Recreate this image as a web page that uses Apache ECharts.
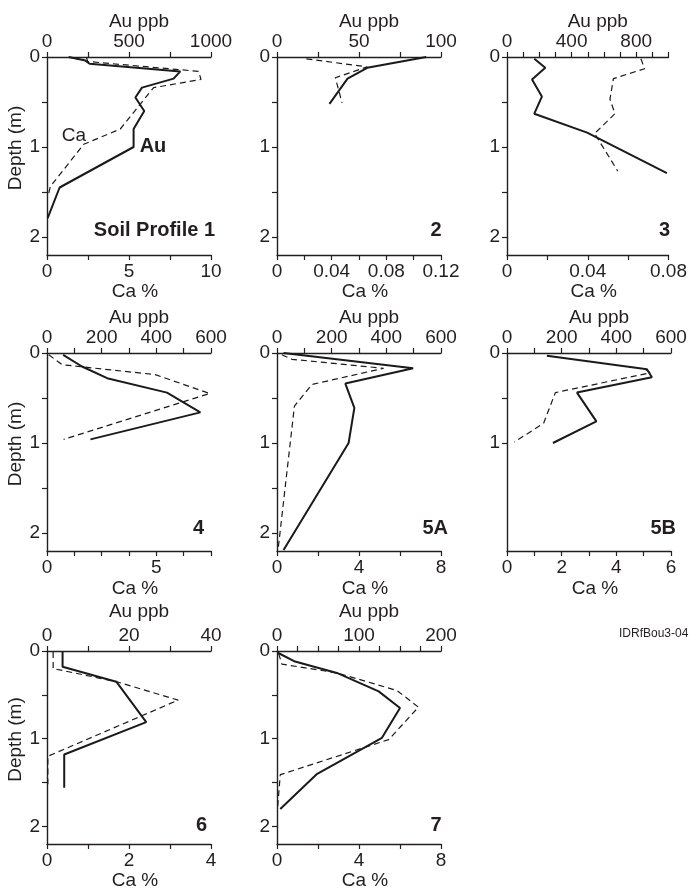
<!DOCTYPE html>
<html><head><meta charset="utf-8">
<script src="https://cdn.jsdelivr.net/npm/echarts@6/dist/echarts.min.js"></script>
<style>html,body{margin:0;padding:0;background:#fff}#c{width:690px;height:891px}</style>
</head><body><div id="c"></div>
<script>
// ---------- DATA ----------
const profileNames = ['Soil Profile 1', '2', '3', '4', '5A', '5B', '6', '7'];

// Profile 1
const p1AuDepth = [0, 0.04, 0.075, 0.16, 0.24, 0.34, 0.45, 0.60, 0.80, 1.00, 1.45, 1.79];
const p1Au      = [132, 234, 260, 813, 772, 579, 539, 593, 528, 528, 77, 4];
const p1CaDepth = [0, 0.05, 0.16, 0.25, 0.34, 0.80, 0.97, 1.44, 1.52];
const p1Ca      = [2.4, 2.48, 9.25, 9.39, 6.5, 4.47, 2.24, 0.2, 0.1];
// Profile 2
const p2AuDepth = [0, 0.12, 0.24, 0.52];
const p2Au      = [91, 55, 43, 32];
const p2CaDepth = [0.02, 0.11, 0.23, 0.51];
const p2Ca      = [0.0215, 0.066, 0.0427, 0.0476];
// Profile 3
const p3AuDepth = [0.02, 0.12, 0.25, 0.44, 0.63, 0.84, 1.29];
const p3Au      = [169, 237, 155, 216, 169, 496, 990];
const p3CaDepth = [0.02, 0.13, 0.24, 0.47, 0.63, 0.85, 1.27];
const p3Ca      = [0.0663, 0.0682, 0.0527, 0.051, 0.0535, 0.0434, 0.0549];
// Profile 4
const p4AuDepth = [0.02, 0.15, 0.28, 0.44, 0.66, 0.96];
const p4Au      = [59, 128, 220, 439, 561, 159];
const p4CaDepth = [0.02, 0.13, 0.24, 0.45, 0.96];
const p4Ca      = [0.08, 0.69, 4.95, 7.44, 0.76];
// Profile 5A
const p5aAuDepth = [0, 0.17, 0.34, 0.61, 1.0, 2.19];
const p5aAu      = [24, 498, 250, 283, 262, 24];
const p5aCaDepth = [0.02, 0.07, 0.17, 0.35, 0.59, 2.19];
const p5aCa      = [0.24, 0.73, 5.2, 1.7, 0.85, 0.05];
// Profile 5B
const p5bAuDepth = [0.03, 0.18, 0.27, 0.44, 0.76, 1.0];
const p5bAu      = [146, 512, 530, 256, 327, 168];
const p5bCaDepth = [0.18, 0.22, 0.44, 0.78, 0.99];
const p5bCa      = [5.06, 5.24, 1.77, 1.34, 0.27];
// Profile 6
const p6AuDepth = [0.01, 0.18, 0.35, 0.81, 1.18, 1.56];
const p6Au      = [3.8, 3.8, 16.9, 24.2, 4.2, 4.2];
const p6CaDepth = [0.01, 0.2, 0.35, 0.56, 1.2, 1.52];
const p6Ca      = [0.15, 0.15, 1.7, 3.2, 0.02, 0.02];
// Profile 7
const p7AuDepth = [0.02, 0.12, 0.25, 0.46, 0.65, 0.99, 1.4, 1.8];
const p7Au      = [1, 22, 73, 124, 150, 128, 49, 4];
const p7CaDepth = [0.03, 0.15, 0.25, 0.45, 0.64, 1.01, 1.41, 1.78];
const p7Ca      = [0.08, 0.24, 2.93, 5.85, 6.9, 5.45, 0.16, 0.03];

// Axis ranges / ticks / tick labels
const depthMax = 2.2;
const depthTicks = [0, 0.5, 1, 1.5, 2];
const depthLabels = [0, 1, 2];
const depthTicks5B = [0, 0.5, 1];
const depthLabels5B = [0, 1];

const auMax = [1000, 100, 1000, 600, 600, 600, 40, 200];
const auTicks = [
  [0, 250, 500, 750, 1000],
  [0, 25, 50, 75, 100],
  [0, 100, 200, 300, 400, 500, 600, 700, 800, 900, 1000],
  [0, 100, 200, 300, 400, 500, 600],
  [0, 100, 200, 300, 400, 500, 600],
  [0, 100, 200, 300, 400, 500, 600],
  [0, 10, 20, 30, 40],
  [0, 25, 50, 75, 100, 125, 150, 175, 200]
];
const auLabels = [
  [0, 500, 1000], [0, 50, 100], [0, 400, 800], [0, 200, 400, 600],
  [0, 200, 400, 600], [0, 200, 400, 600], [0, 20, 40], [0, 100, 200]
];
const caMax = [10, 0.12, 0.08, 7.5, 8, 6, 4, 8];
const caTicks = [
  [0, 2.5, 5, 7.5, 10],
  [0, 0.02, 0.04, 0.06, 0.08, 0.1, 0.12],
  [0, 0.02, 0.04, 0.06, 0.08],
  [0, 1.25, 2.5, 3.75, 5, 6.25, 7.5],
  [0, 2, 4, 6, 8],
  [0, 1, 2, 3, 4, 5, 6],
  [0, 1, 2, 3, 4],
  [0, 2, 4, 6, 8]
];
const caLabels = [
  [0, 5, 10], [0, 0.04, 0.08, 0.12], [0, 0.04, 0.08], [0, 5],
  [0, 4, 8], [0, 2, 4, 6], [0, 2, 4], [0, 4, 8]
];

const auDepths = [p1AuDepth, p2AuDepth, p3AuDepth, p4AuDepth, p5aAuDepth, p5bAuDepth, p6AuDepth, p7AuDepth];
const auVals   = [p1Au, p2Au, p3Au, p4Au, p5aAu, p5bAu, p6Au, p7Au];
const caDepths = [p1CaDepth, p2CaDepth, p3CaDepth, p4CaDepth, p5aCaDepth, p5bCaDepth, p6CaDepth, p7CaDepth];
const caVals   = [p1Ca, p2Ca, p3Ca, p4Ca, p5aCa, p5bCa, p6Ca, p7Ca];

// ---------- LAYOUT ----------
const FONT = '"Liberation Sans", Arial, Helvetica, sans-serif';
const INK = '#231f20';
const colLeft = [47, 277, 507];
const rowTop = [57, 353, 651];
const W = 164, H = 198;
const auNameGap = [25, 26, 30];
const caNameGap = [27, 28, 27];

const axisLine = { show: true, onZero: false, lineStyle: { color: INK, width: 1.4 } };
const tickStyle = { color: INK, width: 1.2 };
const labelStyle = { color: INK, fontSize: 19, fontFamily: FONT };
const plain = v => String(v);

const grids = [], xAxes = [], yAxes = [], series = [];
for (let i = 0; i < 8; i++) {
  const row = Math.floor(i / 3), col = i % 3;
  grids.push({ left: colLeft[col], top: rowTop[row], width: W, height: H });
  xAxes.push({
    type: 'value', gridIndex: i, position: 'top', min: 0, max: auMax[i],
    axisLine: axisLine,
    axisTick: { show: true, length: 5, lineStyle: tickStyle, customValues: auTicks[i] },
    axisLabel: Object.assign({ margin: 6, customValues: auLabels[i], formatter: plain }, labelStyle),
    splitLine: { show: false },
    name: 'Au ppb', nameLocation: 'middle', nameGap: auNameGap[row],
    nameTextStyle: Object.assign({ padding: [0, 0, 0, 20] }, labelStyle)
  });
  xAxes.push({
    type: 'value', gridIndex: i, position: 'bottom', min: 0, max: caMax[i],
    axisLine: axisLine,
    axisTick: { show: true, length: 5, lineStyle: tickStyle, customValues: caTicks[i] },
    axisLabel: Object.assign({ margin: 7, customValues: caLabels[i], formatter: plain }, labelStyle),
    splitLine: { show: false },
    name: 'Ca %', nameLocation: 'middle', nameGap: caNameGap[row],
    nameTextStyle: Object.assign({ padding: [0, 0, 0, 12] }, labelStyle)
  });
  const is5B = profileNames[i] === '5B';
  const y = {
    type: 'value', gridIndex: i, inverse: true, min: 0, max: depthMax,
    axisLine: axisLine,
    axisTick: { show: true, length: 5, lineStyle: tickStyle, customValues: is5B ? depthTicks5B : depthTicks },
    axisLabel: Object.assign({ margin: 7, customValues: is5B ? depthLabels5B : depthLabels, formatter: plain }, labelStyle),
    splitLine: { show: false }
  };
  if (col === 0) {
    Object.assign(y, {
      name: 'Depth (m)', nameLocation: 'middle', nameRotate: 90, nameGap: 22,
      nameTextStyle: Object.assign({ padding: [0, 0, 0, 16] }, labelStyle)
    });
  }
  yAxes.push(y);

  series.push({
    type: 'line', name: 'Au', xAxisIndex: 2 * i, yAxisIndex: i,
    data: auVals[i].map((v, k) => [v, auDepths[i][k]]),
    symbol: 'none', silent: true,
    lineStyle: { color: '#1a1a1a', width: 2 }
  });
  series.push({
    type: 'line', name: 'Ca', xAxisIndex: 2 * i + 1, yAxisIndex: i,
    data: caVals[i].map((v, k) => [v, caDepths[i][k]]),
    symbol: 'none', silent: true,
    lineStyle: { color: '#1a1a1a', width: 1.2, type: [6, 4] }
  });
}

// Panel labels (bottom-right of each plot)
const labelRight = [215, 441.5, 670, 204, 448, 676, 207, 441.5];
const labelY = [230, 230.5, 230.5, 528, 528, 528, 825, 825];
const graphics = profileNames.map((t, i) => ({
  type: 'text', silent: true,
  style: { text: t, x: labelRight[i], y: labelY[i], align: 'right', verticalAlign: 'middle',
           font: 'bold 20px ' + FONT, fill: INK }
}));
graphics.push({ type: 'text', silent: true,
  style: { text: 'Ca', x: 74, y: 136, align: 'center', verticalAlign: 'middle', font: '19px ' + FONT, fill: INK } });
graphics.push({ type: 'text', silent: true,
  style: { text: 'Au', x: 153, y: 146, align: 'center', verticalAlign: 'middle', font: 'bold 20px ' + FONT, fill: INK } });
graphics.push({ type: 'text', silent: true,
  style: { text: 'IDRfBou3-04', x: 619, y: 634, align: 'left', verticalAlign: 'middle', font: '12px ' + FONT, fill: INK } });

const chart = echarts.init(document.getElementById('c'), null, { renderer: 'canvas' });
chart.setOption({
  animation: false,
  backgroundColor: '#fff',
  grid: grids, xAxis: xAxes, yAxis: yAxes, series: series,
  graphic: graphics
});
</script></body></html>
